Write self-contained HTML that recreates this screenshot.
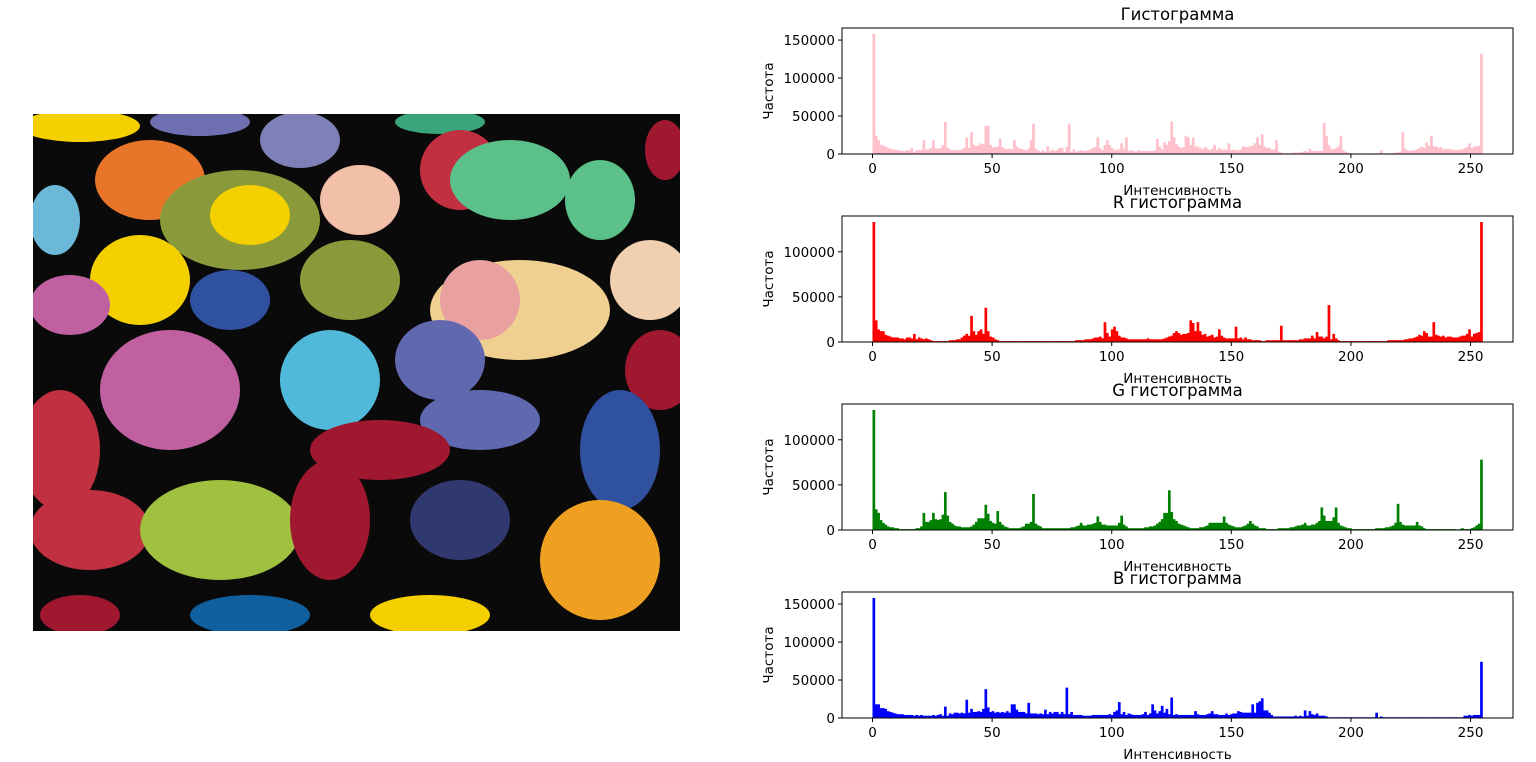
<!DOCTYPE html>
<html><head><meta charset="utf-8"><style>
body{margin:0;background:#fff;width:1536px;height:762px;overflow:hidden;font-family:"DejaVu Sans","Liberation Sans",sans-serif}
svg{position:absolute;left:0;top:0}
</style></head><body>
<svg id="s" width="1536" height="762" xmlns="http://www.w3.org/2000/svg" font-family="DejaVu Sans, Liberation Sans, sans-serif">
<defs><clipPath id="imgclip"><rect x="33" y="114" width="647" height="517"/></clipPath></defs>
<g clip-path="url(#imgclip)">
<rect x="33" y="114" width="647" height="517" fill="#0a0a0a"/>
<ellipse cx="80" cy="126" rx="60" ry="16" fill="#f5d000"/>
<ellipse cx="200" cy="122" rx="50" ry="14" fill="#6d6fb0"/>
<ellipse cx="300" cy="140" rx="40" ry="28" fill="#8080b8"/>
<ellipse cx="440" cy="122" rx="45" ry="12" fill="#3aa57a"/>
<ellipse cx="150" cy="180" rx="55" ry="40" fill="#e8762a"/>
<ellipse cx="55" cy="220" rx="25" ry="35" fill="#6bb8d8"/>
<ellipse cx="240" cy="220" rx="80" ry="50" fill="#8a9a3a"/>
<ellipse cx="250" cy="215" rx="40" ry="30" fill="#f5d000"/>
<ellipse cx="360" cy="200" rx="40" ry="35" fill="#f2c0a8"/>
<ellipse cx="350" cy="280" rx="50" ry="40" fill="#8a9a3a"/>
<ellipse cx="460" cy="170" rx="40" ry="40" fill="#c03040"/>
<ellipse cx="510" cy="180" rx="60" ry="40" fill="#5cc08a"/>
<ellipse cx="600" cy="200" rx="35" ry="40" fill="#5cc08a"/>
<ellipse cx="665" cy="150" rx="20" ry="30" fill="#a01830"/>
<ellipse cx="140" cy="280" rx="50" ry="45" fill="#f5d000"/>
<ellipse cx="70" cy="305" rx="40" ry="30" fill="#c060a0"/>
<ellipse cx="230" cy="300" rx="40" ry="30" fill="#3050a0"/>
<ellipse cx="520" cy="310" rx="90" ry="50" fill="#f0d090"/>
<ellipse cx="480" cy="300" rx="40" ry="40" fill="#e8a0a0"/>
<ellipse cx="650" cy="280" rx="40" ry="40" fill="#f0d0b0"/>
<ellipse cx="170" cy="390" rx="70" ry="60" fill="#c060a0"/>
<ellipse cx="330" cy="380" rx="50" ry="50" fill="#50b8d8"/>
<ellipse cx="440" cy="360" rx="45" ry="40" fill="#6068b0"/>
<ellipse cx="480" cy="420" rx="60" ry="30" fill="#6068b0"/>
<ellipse cx="660" cy="370" rx="35" ry="40" fill="#a01830"/>
<ellipse cx="60" cy="450" rx="40" ry="60" fill="#c03040"/>
<ellipse cx="380" cy="450" rx="70" ry="30" fill="#a01830"/>
<ellipse cx="620" cy="450" rx="40" ry="60" fill="#3050a0"/>
<ellipse cx="90" cy="530" rx="60" ry="40" fill="#c03040"/>
<ellipse cx="220" cy="530" rx="80" ry="50" fill="#a0c040"/>
<ellipse cx="330" cy="520" rx="40" ry="60" fill="#a01830"/>
<ellipse cx="460" cy="520" rx="50" ry="40" fill="#303870"/>
<ellipse cx="600" cy="560" rx="60" ry="60" fill="#f0a020"/>
<ellipse cx="80" cy="615" rx="40" ry="20" fill="#a01830"/>
<ellipse cx="250" cy="615" rx="60" ry="20" fill="#1060a0"/>
<ellipse cx="430" cy="615" rx="60" ry="20" fill="#f5d000"/>
</g>
<g id="plots"></g>
</svg>
<script>
const gray=[158,24,18,12,11,10,8,7,6,6,5,5,4,4,5,5,8,2,5,5,5,18,6,6,8,18,8,7,8,12,42,8,6,5,5,5,5,6,8,22,8,29,12,10,12,14,13,37,37,12,9,9,10,20,9,7,6,7,6,18,10,7,7,6,5,7,18,40,7,5,3,5,3,10,4,6,4,5,8,8,3,9,40,3,6,3,4,5,4,4,5,6,8,9,22,8,5,12,18,12,8,5,6,6,14,7,22,4,5,4,3,5,4,4,4,4,4,4,5,20,10,6,15,12,17,43,22,13,10,8,9,24,22,12,22,10,10,8,6,9,7,5,7,12,5,8,6,6,6,14,5,6,5,5,6,10,9,9,10,11,14,22,12,26,10,8,8,6,6,18,3,2,1,1,1,1,2,2,2,2,3,4,3,7,4,4,4,4,4,41,24,12,7,6,8,10,24,5,3,2,1,1,0,0,0,0,0,1,0,1,0,1,1,5,1,1,1,1,1,2,2,3,29,7,5,4,5,5,6,8,10,8,15,11,24,10,10,8,9,6,7,7,6,6,5,5,6,6,8,9,14,8,10,10,11,132];
const red=[133,24,14,12,12,8,7,6,5,5,5,4,4,3,5,5,4,9,3,5,4,3,4,3,2,1,1,1,1,1,1,1,2,2,2,3,3,5,7,9,7,29,12,8,12,14,9,38,12,6,5,3,2,1,1,1,1,1,1,1,1,1,1,1,1,1,1,1,1,1,1,1,1,1,1,1,1,1,1,1,1,1,1,1,1,2,2,2,2,3,3,3,4,5,5,6,4,22,10,6,14,17,12,7,5,5,4,3,3,3,3,3,3,3,3,4,3,3,3,3,3,3,4,5,6,7,10,12,10,8,9,9,10,24,21,12,22,12,8,9,6,7,8,5,6,14,7,5,4,4,4,4,17,4,5,3,5,3,3,2,2,2,2,1,1,2,2,2,2,2,2,18,2,2,2,2,2,2,2,3,3,4,4,4,7,4,11,6,6,4,6,41,3,9,4,2,1,1,1,1,1,1,1,1,1,1,1,1,1,1,1,1,1,1,1,1,2,2,2,2,2,2,2,3,3,4,4,5,6,8,7,12,10,6,6,22,8,7,6,7,5,6,6,5,5,5,6,7,7,9,14,6,9,10,11,133];
const green=[133,23,19,11,8,6,4,3,3,2,2,1,1,1,1,1,1,1,2,2,4,19,9,9,11,19,12,11,12,17,42,16,9,7,5,4,4,3,3,3,3,4,6,9,13,13,13,28,18,10,8,7,21,9,6,4,3,2,2,2,2,2,3,4,7,7,9,40,7,5,4,2,2,2,2,2,2,2,2,2,2,2,2,3,3,4,5,8,5,5,6,6,7,8,15,9,6,6,5,5,5,5,5,8,16,6,4,2,2,2,2,2,2,2,3,3,4,4,5,7,9,12,19,19,44,20,12,10,7,6,5,4,3,2,2,2,2,3,3,4,5,8,8,8,8,8,8,15,8,6,5,4,3,3,3,4,5,7,10,7,5,4,2,2,2,1,1,1,1,1,2,2,2,2,2,3,3,4,5,5,6,8,5,5,6,6,8,10,25,16,10,10,10,14,25,8,5,4,3,2,2,1,1,1,1,1,1,1,1,1,1,2,2,2,2,3,3,4,5,8,29,9,6,5,5,5,5,5,9,5,4,2,1,1,1,1,1,1,1,1,1,1,1,1,1,0,1,2,1,1,1,2,3,5,7,78];
const blue=[158,18,18,13,13,12,9,8,7,6,5,5,5,4,4,4,4,3,4,3,4,3,3,3,3,4,3,4,5,3,15,3,6,5,7,7,6,7,6,24,7,12,8,8,9,8,12,38,14,8,9,7,8,7,8,7,9,7,18,18,11,8,8,8,6,20,6,6,6,5,6,5,11,5,8,6,8,8,5,8,5,40,5,8,4,4,4,4,3,3,3,3,4,4,4,4,4,4,4,5,4,8,10,21,5,8,4,6,5,4,4,4,4,5,8,4,6,18,10,6,9,16,7,12,5,27,4,5,4,4,4,4,4,4,4,9,5,4,4,4,5,6,9,5,5,4,4,4,6,4,5,6,6,9,8,7,7,7,7,18,7,20,22,26,10,10,7,4,2,2,2,2,2,2,2,2,2,3,2,3,2,10,3,9,5,4,6,3,3,3,2,1,1,1,1,1,1,1,1,1,1,1,1,1,1,1,1,1,1,1,1,7,1,2,1,1,1,1,1,1,1,1,1,1,1,1,1,1,1,1,1,1,1,1,1,1,1,1,1,1,1,1,1,1,1,1,1,1,3,3,4,3,4,4,4,74];
const titles=["Гистограмма","R гистограмма","G гистограмма","B гистограмма"];
const colors=["#ffc0cb","#ff0000","#008000","#0000ff"];
const xTicks=[0,50,100,150,200,250];
const yTicksA=[0,50000,100000,150000];
const yTicksB=[0,50000,100000];
const series=[gray,red,green,blue];
const tickSets=[yTicksA,yTicksB,yTicksB,yTicksA];
const NS="http://www.w3.org/2000/svg";
const g=document.getElementById('plots');
function mk(t,a,p){const e=document.createElementNS(NS,t);for(const k in a)e.setAttribute(k,a[k]);(p||g).appendChild(e);return e;}
const L=842,R=1513,W=R-L,H=126,xmin=-12.75,xmax=267.75;
const X=v=>L+(v-xmin)/(xmax-xmin)*W;
const tops=[28,216,404,592];
series.forEach((data,k)=>{
  const T=tops[k],B=T+H;
  const bw=255/data.length;
  const ymax=Math.max(...data)*1000*1.05;
  const Y=v=>B-v/ymax*H;
  const ax=mk('g',{});
  
  
  data.forEach((v,i)=>{
    const x0=X(i*bw),x1=X((i+1)*bw),y=Y(v*1000);
    const r=mk('rect',{x:x0,y:y,width:x1-x0+0.3,height:B-y,fill:colors[k]},ax);
    
    
  });
  mk('rect',{x:L,y:T,width:W,height:H,fill:'none',stroke:'#000','stroke-width':1},ax);
  xTicks.forEach(t=>{
    const x=X(t);
    mk('line',{x1:x,x2:x,y1:B,y2:B+4,stroke:'#000'},ax);
    const tx=mk('text',{x:x,y:B+19,'text-anchor':'middle','font-size':13.5},ax);tx.textContent=t;
    
    
  });
  tickSets[k].forEach(t=>{
    const y=Y(t);
    mk('line',{x1:L-4,x2:L,y1:y,y2:y,stroke:'#000'},ax);
    const tx=mk('text',{x:L-7,y:y+5,'text-anchor':'end','font-size':13.5},ax);tx.textContent=t;
    
    
  });
  const ti=mk('text',{x:(L+R)/2,y:T-8,'text-anchor':'middle','font-size':16.5},ax);ti.textContent=titles[k];
  
  
  const xl=mk('text',{x:(L+R)/2,y:B+41,'text-anchor':'middle','font-size':13.5},ax);xl.textContent='Интенсивность';
  
  
  const yl=mk('text',{x:0,y:0,'text-anchor':'middle','font-size':13.5,transform:`translate(773,${T+H/2}) rotate(-90)`},ax);yl.textContent='Частота';
  
  
});
</script>
</body></html>
